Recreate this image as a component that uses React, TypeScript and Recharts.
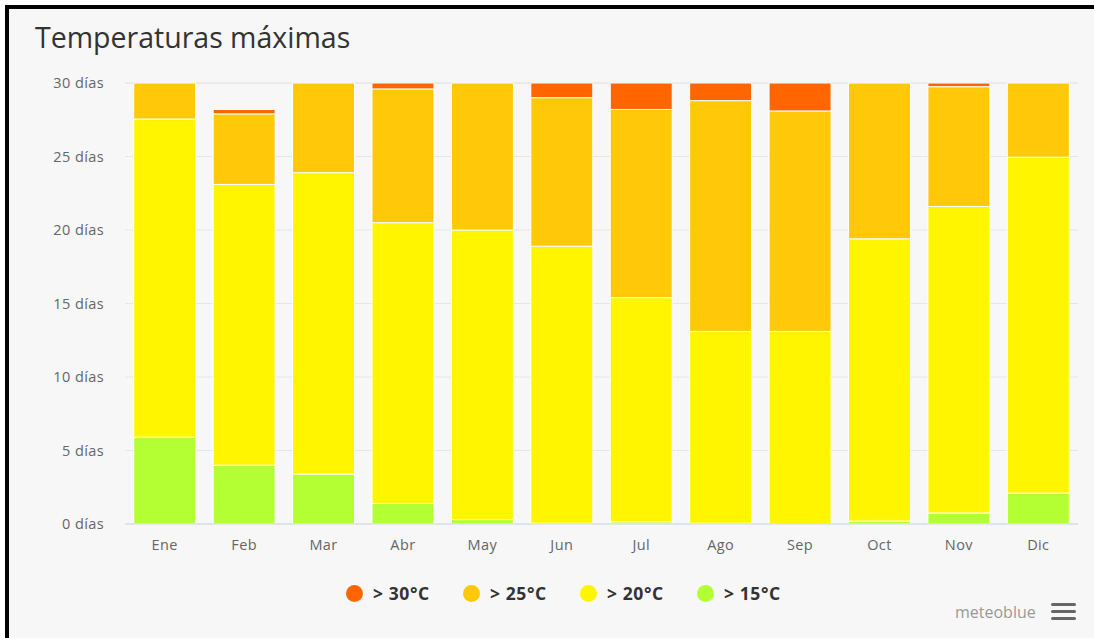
import React from "react";
import { BarChart, Bar, XAxis, YAxis, CartesianGrid } from "recharts";

// ── Data ─────────────────────────────────────────────────────────────
const months = ["Ene", "Feb", "Mar", "Abr", "May", "Jun", "Jul", "Ago", "Sep", "Oct", "Nov", "Dic"];
const over15 = [5.9, 4.0, 3.4, 1.4, 0.3, 0.05, 0.15, 0.05, 0, 0.2, 0.75, 2.1];
const over20 = [21.65, 19.1, 20.5, 19.1, 19.7, 18.85, 15.25, 13.05, 13.1, 19.2, 20.85, 22.85];
const over25 = [2.45, 4.8, 6.1, 9.1, 10, 10.1, 12.8, 15.7, 15.0, 10.6, 8.15, 5.05];
const over30 = [0, 0.3, 0, 0.4, 0, 1.0, 1.8, 1.2, 1.9, 0, 0.25, 0];
const yTicks = [0, 5, 10, 15, 20, 25, 30];

const seriesDefs = [
  { key: "t15", label: "> 15°C", color: "#b3ff33" },
  { key: "t20", label: "> 20°C", color: "#fff500" },
  { key: "t25", label: "> 25°C", color: "#ffc90a" },
  { key: "t30", label: "> 30°C", color: "#ff6600" },
];

const data = months.map((m, i) => ({
  month: m,
  t15: over15[i],
  t20: over20[i],
  t25: over25[i],
  t30: over30[i],
}));

const FONT = "'Open Sans', 'DejaVu Sans', sans-serif";
const tickStyle = { fill: "#666666", fontSize: 14.5, fontFamily: FONT, letterSpacing: 0.4 } as const;

// legend shows hottest first, drawn as an overlay so the plot keeps its height
function LegendRow() {
  const items = [...seriesDefs].reverse();
  return (
    <div style={{ position: "absolute", left: 346, top: 581, display: "flex", fontFamily: FONT }}>
      {items.map((s) => (
        <span key={s.key} style={{ display: "inline-flex", alignItems: "center", gap: 10, width: 117 }}>
          <span style={{ width: 17, height: 17, borderRadius: 999, background: s.color }} />
          <span style={{ fontSize: 17.5, fontWeight: 700, color: "#333333", letterSpacing: 0.6 }}>{s.label}</span>
        </span>
      ))}
    </div>
  );
}

export default function App() {
  return (
    <div style={{ position: "absolute", left: 0, top: 0, width: 1094, height: 638, background: "#ffffff", overflow: "hidden" }}>
      <div
        style={{
          position: "absolute",
          left: 5,
          top: 5,
          width: 1100,
          height: 640,
          background: "#f7f7f7",
          borderLeft: "4px solid #000",
          borderTop: "4px solid #000",
        }}
      />
      <div
        style={{
          position: "absolute",
          left: 35,
          top: 18,
          fontFamily: FONT,
          fontSize: 28.5,
          color: "#333333",
          whiteSpace: "nowrap",
        }}
      >
        Temperaturas máximas
      </div>

      <div style={{ position: "absolute", left: 0, top: 0 }}>
        <BarChart
          width={1094}
          height={638}
          data={data}
          margin={{ top: 83, right: 16, left: 0, bottom: 84 }}
          barCategoryGap="11%"
        >
          <CartesianGrid stroke="#e6e6e6" vertical={false} />
          <XAxis
            dataKey="month"
            height={30}
            tick={tickStyle}
            tickLine={false}
            tickSize={0}
            tickMargin={16}
            axisLine={{ stroke: "#ccd6eb" }}
          />
          <YAxis
            width={125}
            domain={[0, 30]}
            ticks={yTicks}
            tick={tickStyle}
            tickLine={false}
            tickSize={0}
            tickMargin={21}
            axisLine={false}
            tickFormatter={(v) => `${v} días`}
          />
          {seriesDefs.map((s) => (
            <Bar
              key={s.key}
              dataKey={s.key}
              stackId="days"
              fill={s.color}
              stroke="#ffffff"
              strokeWidth={1}
              isAnimationActive={false}
            />
          ))}
        </BarChart>
      </div>

      <LegendRow />

      <div
        style={{
          position: "absolute",
          left: 955,
          top: 601,
          fontFamily: FONT,
          fontSize: 16,
          color: "#999999",
        }}
      >
        meteoblue
      </div>
      <div style={{ position: "absolute", left: 1051, top: 603, width: 25 }}>
        {[0, 1, 2].map((i) => (
          <div key={i} style={{ height: 3, background: "#666666", borderRadius: 2, marginBottom: 4 }} />
        ))}
      </div>
    </div>
  );
}
